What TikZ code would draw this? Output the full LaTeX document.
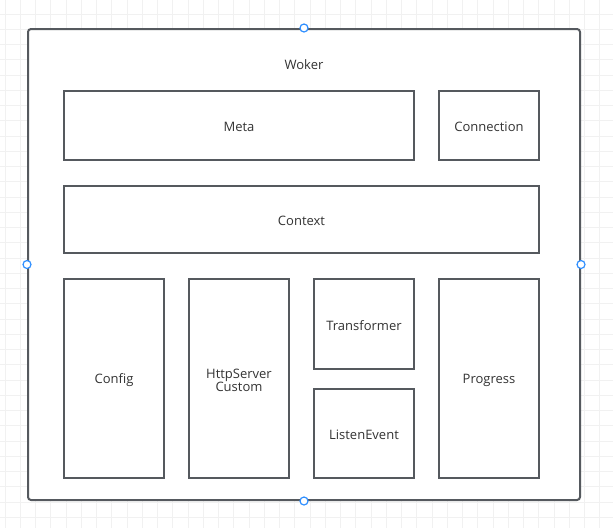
\documentclass[tikz,border=0pt]{standalone}
\usepackage{fontspec}
\setmainfont{Open Sans}
\newcommand{\lowr}[1]{\raisebox{-1.5pt}[\height][\depth]{#1}}
\begin{document}
\begin{tikzpicture}[x=1pt,y=-1pt,
  box/.style={draw=boxc,line width=1.7pt,inner sep=0pt,text=txt,font=\fontsize{13}{15}\selectfont,align=center},
  lbl/.style={text=txt,font=\fontsize{13}{15}\selectfont,align=center},
  handle/.style={circle,draw=hblue,fill=white,line width=1.2pt,minimum size=8pt,inner sep=0pt}]
\definecolor{boxc}{HTML}{55595E}
\definecolor{txt}{HTML}{333333}
\definecolor{gridc}{HTML}{F1F1F1}
\definecolor{hblue}{HTML}{2F8FFF}
\useasboundingbox (0,0) rectangle (613,528);
\fill[white] (0,0) rectangle (613,528);
\foreach \i in {0,...,40} {\draw[gridc,line width=1pt] ({5+15.25*\i},0) -- ({5+15.25*\i},528);}
\foreach \j in {0,...,35} {\draw[gridc,line width=1pt] (0,{14+15.25*\j}) -- (613,{14+15.25*\j});}
% outer container
\node[draw=boxc,line width=2pt,fill=white,rounded corners=3pt,minimum width=552pt,minimum height=471pt,inner sep=0pt] (outer) at (304,264.5) {};
\node[lbl] (woker) at (304,65) {Woker};
% inner boxes
\node[box,minimum width=350pt,minimum height=69pt] (meta) at (239,125.5) {\lowr{Meta}};
\node[box,minimum width=100pt,minimum height=69pt] (conn) at (489,125.5) {\lowr{Connection}};
\node[box,minimum width=475pt,minimum height=67pt] (ctx) at (301.5,219.5) {\lowr{Context}};
\node[box,minimum width=100pt,minimum height=199pt] (cfg) at (114,378.5) {\lowr{Config}};
\node[box,minimum width=100pt,minimum height=199pt] (http) at (239,378.5) {\lowr{HttpServer}\\[-2pt]\lowr{Custom}};
\node[box,minimum width=100pt,minimum height=90pt] (trans) at (364,324) {\lowr{Transformer}};
\node[box,minimum width=100pt,minimum height=89pt] (listen) at (364,433.5) {\lowr{ListenEvent}};
\node[box,minimum width=100pt,minimum height=199pt] (prog) at (489,378.5) {\lowr{Progress}};
% selection handles
\node[handle] (h1) at (outer.north) {};
\node[handle] (h2) at (outer.west) {};
\node[handle] (h3) at (outer.east) {};
\node[handle] (h4) at (outer.south) {};
\end{tikzpicture}
\end{document}
